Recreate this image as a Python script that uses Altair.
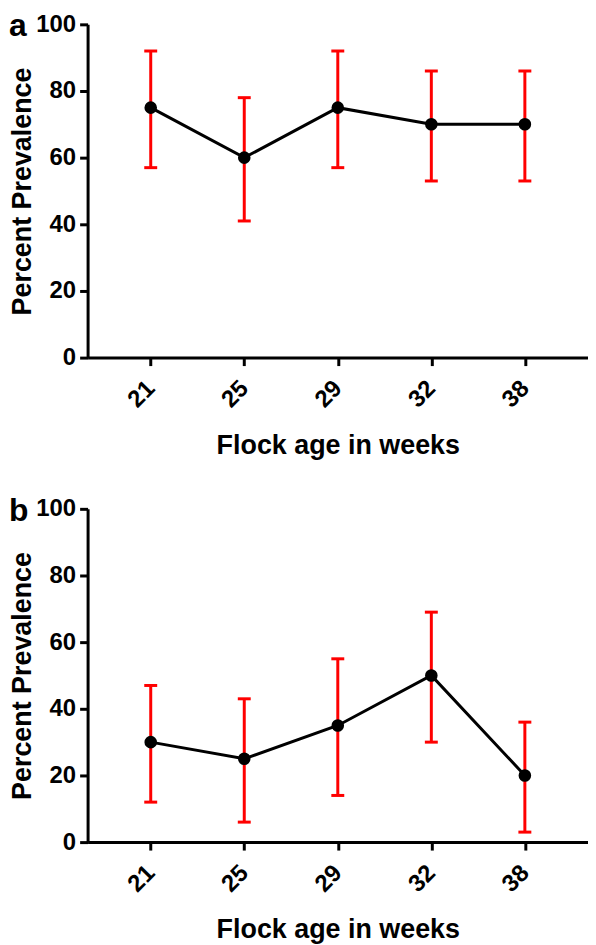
import altair as alt
import pandas as pd

ages = ["21", "25", "29", "32", "38"]
a_mean = [75, 60, 75, 70, 70]
a_low = [57, 41, 57, 53, 53]
a_high = [92, 78, 92, 86, 86]
b_mean = [30, 25, 35, 50, 20]
b_low = [12, 6, 14, 30, 3]
b_high = [47, 43, 55, 69, 36]

FONT = "Liberation Sans"


def panel(label, mean, low, high):
    df = pd.DataFrame({"age": ages, "mean": mean, "low": low, "high": high})
    x = alt.X("age:N", sort=ages, scale=alt.Scale(type="point", padding=0.675),
              axis=alt.Axis(title="Flock age in weeks", labelAngle=-45,
                            labelAlign="right", labelBaseline="middle",
                            labelPadding=19, titlePadding=21))
    y = alt.Y("mean:Q", scale=alt.Scale(domain=[0, 100]),
              axis=alt.Axis(title="Percent Prevalence", values=[0, 20, 40, 60, 80, 100],
                            labelPadding=4, titlePadding=-1))
    base = alt.Chart(df)
    rule = base.mark_rule(color="#ff0000", strokeWidth=3).encode(
        x=x, y=alt.Y("low:Q", scale=alt.Scale(domain=[0, 100])), y2="high:Q")
    cap_lo = base.mark_tick(color="#ff0000", thickness=3, size=13, opacity=1).encode(
        x=x, y=alt.Y("low:Q"))
    cap_hi = base.mark_tick(color="#ff0000", thickness=3, size=13, opacity=1).encode(
        x=x, y=alt.Y("high:Q"))
    line = base.mark_line(color="black", strokeWidth=3).encode(x=x, y=y)
    pts = base.mark_point(filled=True, color="black", size=160, opacity=1).encode(x=x, y=y)
    return alt.layer(rule, cap_lo, cap_hi, line, pts).properties(
        width=503, height=335,
        title=alt.TitleParams(text=label, anchor="start", frame="bounds", fontSize=32,
                              fontWeight="bold", font=FONT, color="black", offset=-31),
    )


chart = alt.vconcat(
    panel("a", a_mean, a_low, a_high),
    panel("b", b_mean, b_low, b_high),
    spacing=36,
).properties(
    padding={"left": 0, "top": 0, "right": 0, "bottom": 0}
).configure_view(stroke=None).configure_axis(
    domainColor="black", domainWidth=3, tickColor="black", tickWidth=3, tickSize=8,
    grid=False, labelFont=FONT, labelFontWeight="bold", labelFontSize=24,
    labelColor="black", titleFont=FONT, titleFontWeight="bold", titleFontSize=27,
    titleColor="black",
)

chart.save("out.html", embed_options={"renderer": "svg", "actions": False})
